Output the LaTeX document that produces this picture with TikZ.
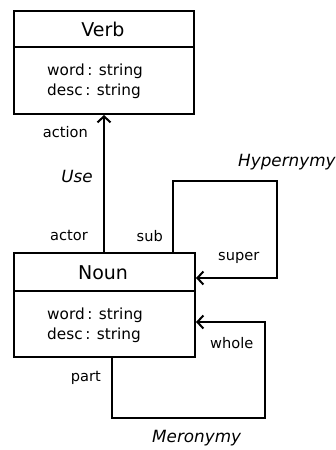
\documentclass[tikz,border=0pt]{standalone}
\usepackage{fontspec}
\setmainfont{DejaVu Sans}
\usetikzlibrary{arrows.meta}
\begin{document}
\begin{tikzpicture}[x=1pt,y=-1pt,
  box/.style={draw,line width=2pt,inner sep=0pt,anchor=north west},
  conn/.style={line width=2pt},
  arr/.style={conn,-{Straight Barb[length=6pt,width=13pt,line width=2pt]}},
  cname/.style={font=\fontsize{19}{21}\selectfont,inner sep=0pt},
  attr/.style={font=\fontsize{15.3}{20}\selectfont,inner sep=0pt,anchor=west,align=left},
  lbl/.style={font=\fontsize{14.6}{16}\selectfont,inner sep=0pt},
  rname/.style={lbl,font=\fontsize{16.8}{18}\selectfont\itshape}]
\useasboundingbox (0,0) rectangle (335,450);
% Verb class
\node[box,minimum width=180pt,minimum height=103pt] (verb) at (13,10) {};
\draw[conn] ([yshift=-37pt]verb.north west) coordinate (vdl) -- ([yshift=-37pt]verb.north east) coordinate (vdr);
\node[cname] (verbname) at (103,29) {Verb};
\node[attr] (verbattr) at (47,81) {word\,: string\\desc\,: string};
% Noun class
\node[box,minimum width=181pt,minimum height=104pt] (noun) at (13,252) {};
\draw[conn] ([yshift=-39pt]noun.north west) coordinate (ndl) -- ([yshift=-39pt]noun.north east) coordinate (ndr);
\node[cname] (nounname) at (103,273) {Noun};
\node[attr] (nounattr) at (47,325) {word\,: string\\desc\,: string};
% Use association
\coordinate (ux) at (104,0);
\draw[arr] (noun.north -| ux) -- (verb.south -| ux);
\node[lbl,anchor=east] (action) at (88,132) {action};
\node[rname,anchor=east] (use) at (93,176) {Use};
\node[lbl,anchor=east] (actor) at (88,235) {actor};
% Hypernymy
\coordinate (hs) at (173,0);
\coordinate (htop) at (0,181);
\coordinate (hright) at (277,0);
\coordinate (hy) at (0,278);
\draw[arr] (noun.north -| hs) -- (htop -| hs) -- (htop -| hright) -- (hy -| hright) -- (hy -| noun.east);
\node[lbl,anchor=east] (sub) at (163,236) {sub};
\node[lbl,anchor=west] (super) at (218,258) {super};
\node[rname,anchor=west] (hyper) at (238,162) {Hypernymy};
% Meronymy
\coordinate (ms) at (112,0);
\coordinate (mbot) at (0,418);
\coordinate (mright) at (265,0);
\coordinate (my) at (0,322);
\draw[arr] (noun.south -| ms) -- (mbot -| ms) -- (mbot -| mright) -- (my -| mright) -- (my -| noun.east);
\node[lbl,anchor=east] (part) at (101,378) {part};
\node[lbl,anchor=west] (whole) at (210,343) {whole};
\node[rname,anchor=west] (mero) at (152,438) {Meronymy};
\end{tikzpicture}
\end{document}
